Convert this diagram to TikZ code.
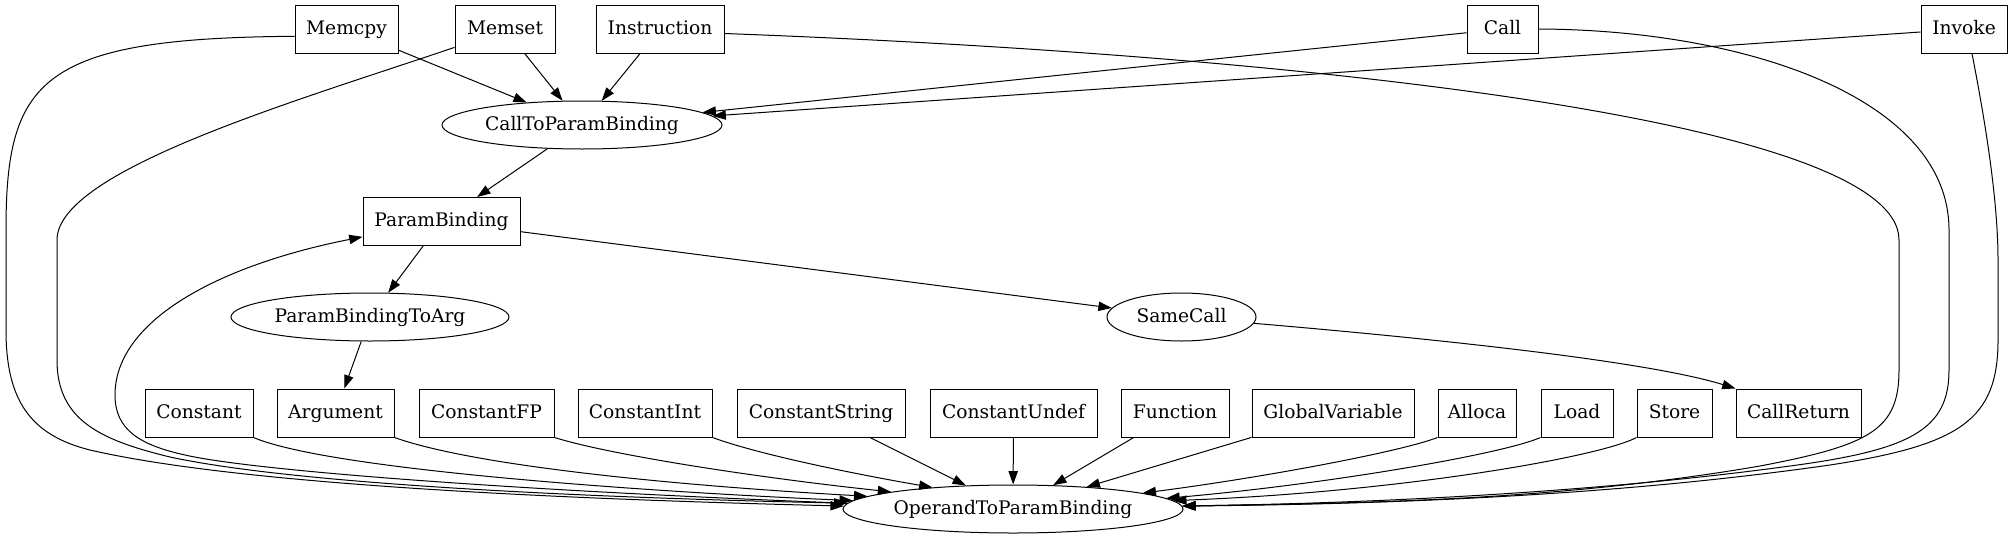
\documentclass[tikz,border=0pt]{standalone}
\usepackage{fontspec}
\setmainfont{DejaVu Serif}
\usetikzlibrary{arrows.meta,shapes.geometric}
\begin{document}
\begin{tikzpicture}[x=0.75pt,y=-0.75pt,
  bx/.style={draw, rectangle, minimum height=36pt, inner xsep=2pt, text height=10.5pt, text depth=3pt, line width=0.75pt, font=\fontsize{14}{17}\selectfont},
  el/.style={draw, ellipse, minimum height=36pt, inner sep=0pt, text height=10.5pt, text depth=3pt, line width=0.75pt, font=\fontsize{14}{17}\selectfont},
  conn/.style={draw, line width=0.75pt, -{Triangle[length=10pt,width=7pt]}}]
\useasboundingbox (0,0) rectangle (2012,539);
% top row
\node[bx, minimum width=77.25pt] (memcpy) at (346.5,29) {Memcpy};
\node[bx, minimum width=75pt] (memset) at (505,29) {Memset};
\node[bx, minimum width=96pt] (instr) at (660,29) {Instruction};
\node[bx, minimum width=53.25pt] (call) at (1502.5,29) {Call};
\node[bx, minimum width=64.5pt] (invoke) at (1964,29) {Invoke};
% middle
\node[el, minimum width=210pt] (ctpb) at (582,125) {CallToParamBinding};
\node[bx, minimum width=117.75pt] (pb) at (441.5,221.5) {ParamBinding};
\node[el, minimum width=208.5pt] (pbta) at (370,317) {ParamBindingToArg};
\node[el, minimum width=111.75pt] (same) at (1181.5,317) {SameCall};
% row
\node[bx, minimum width=81pt] (constant) at (199,413) {Constant};
\node[bx, minimum width=87.75pt] (argument) at (335.5,413) {Argument};
\node[bx, minimum width=101.25pt] (cfp) at (486.5,413) {ConstantFP};
\node[bx, minimum width=100.5pt] (cint) at (645,413) {ConstantInt};
\node[bx, minimum width=126pt] (cstr) at (821,413) {ConstantString};
\node[bx, minimum width=125.25pt] (cundef) at (1013.5,413) {ConstantUndef};
\node[bx, minimum width=81pt] (func) at (1175,413) {Function};
\node[bx, minimum width=121.5pt] (gvar) at (1333,413) {GlobalVariable};
\node[bx, minimum width=58.5pt] (alloca) at (1477,413) {Alloca};
\node[bx, minimum width=54pt] (load) at (1577,413) {Load};
\node[bx, minimum width=56.25pt] (store) at (1674.5,413) {Store};
\node[bx, minimum width=93.75pt] (callret) at (1798.5,413) {CallReturn};
% bottom
\node[el, minimum width=255pt] (otpb) at (1013,509) {OperandToParamBinding};

% edges to CallToParamBinding
\path[conn] (memcpy) -- (ctpb);
\path[conn] (memset) -- (ctpb);
\path[conn] (instr) -- (ctpb);
\path[conn] (call) -- (ctpb);
\path[conn] (invoke) -- (ctpb);
\path[conn] (ctpb) -- (pb);
\path[conn] (pb) -- (pbta);
\path[conn] (pb) -- (same);
\path[conn] (pbta) -- (argument);
\path[conn] (same.-5) .. controls (1450,340) and (1650,362) .. (callret.north west);

% long edges to OperandToParamBinding (left)
\path[conn] (memcpy.188) .. controls (40,38) and (6,80) .. (6,230) -- (6,330)
   .. controls (6,400) and (30,435) .. (90,450)
   .. controls (250,487) and (600,500) .. (otpb.179);
\path[conn] (memset.200) .. controls (300,100) and (57,170) .. (57,240) -- (57,360)
   .. controls (57,420) and (100,440) .. (170,457)
   .. controls (300,485) and (600,498) .. (otpb.178.3);
\path[conn] (otpb.178) .. controls (500,490) and (250,470) .. (185,455)
   .. controls (140,445) and (115,430) .. (115,395)
   .. controls (115,320) and (220,265) .. (pb.191);

% row edges
\path[conn] (constant.south east) .. controls (330,470) and (650,492) .. (otpb.177.6);
\path[conn] (argument.south east) .. controls (480,468) and (700,487) .. (otpb.175.5);
\path[conn] (cfp.south east) .. controls (610,455) and (760,478) .. (otpb.172);
\path[conn] (cint.south east) .. controls (760,455) and (860,475) .. (otpb.165.5);
\path[conn] (cstr) -- (otpb);
\path[conn] (cundef) -- (otpb);
\path[conn] (func) -- (otpb);
\path[conn] (gvar) -- (otpb);
\path[conn] (alloca.south west) .. controls (1400,452) and (1260,478) .. (otpb.7.2);
\path[conn] (load.south west) .. controls (1500,455) and (1320,485) .. (otpb.4.5);
\path[conn] (store.south west) .. controls (1600,457) and (1400,492) .. (otpb.3);

% long edges to OperandToParamBinding (right)
\path[conn] (instr.-4) .. controls (1300,55) and (1899,120) .. (1899,240) -- (1899,370)
   .. controls (1899,430) and (1870,445) .. (1760,466)
   .. controls (1550,502) and (1350,503) .. (otpb.1.7);
\path[conn] (call.east) .. controls (1750,30) and (1949,100) .. (1949,230) -- (1949,370)
   .. controls (1949,430) and (1910,450) .. (1790,466)
   .. controls (1600,492) and (1380,503) .. (otpb.1.3);
\path[conn] (invoke.-72) .. controls (1985,120) and (1998,200) .. (1998,260) -- (1998,340)
   .. controls (1998,420) and (1960,445) .. (1830,465)
   .. controls (1620,495) and (1400,504) .. (otpb.1);
\end{tikzpicture}
\end{document}
